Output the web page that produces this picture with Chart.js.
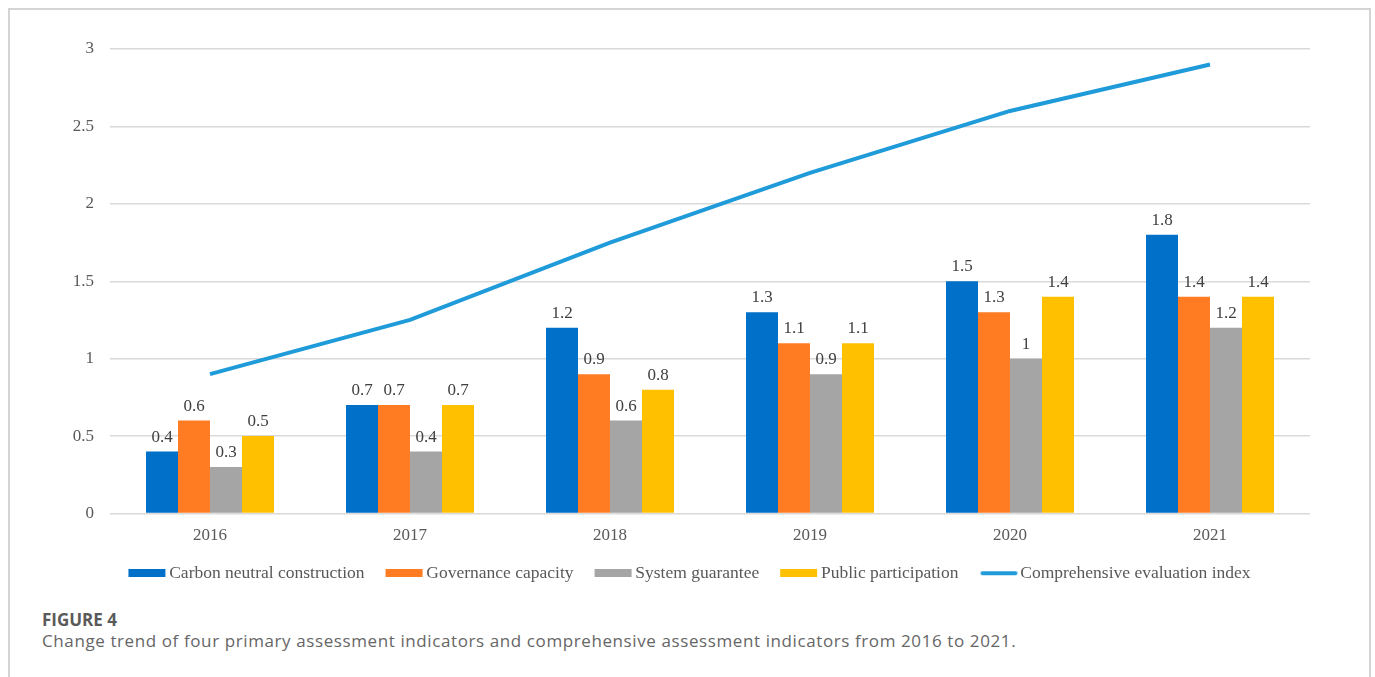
<!DOCTYPE html>
<html>
<head>
<meta charset="utf-8">
<script src="https://cdn.jsdelivr.net/npm/chart.js@4.4.0/dist/chart.umd.min.js"></script>
<style>
  html, body { margin: 0; padding: 0; background: #fff; }
  body { width: 1375px; height: 677px; position: relative; overflow: hidden; }
  .frame { position: absolute; left: 8px; top: 8px; width: 1359px; height: 700px; border: 2px solid #d4d4d4; }
  #wrap { position: absolute; left: 0; top: 0; width: 1375px; height: 592px; }
  .fig { position: absolute; left: 42px; top: 610px; line-height: 20px; font-family: "Open Sans", sans-serif; font-weight: 700; font-size: 17px; color: #5a5a5a; }
  .cap { position: absolute; left: 42px; top: 631px; line-height: 20px; font-family: "Open Sans", sans-serif; font-size: 17px; letter-spacing: 0.6px; color: #666; white-space: nowrap; }
</style>
</head>
<body>
<div class="frame"></div>
<div id="wrap"><canvas id="c"></canvas></div>
<div class="fig">FIGURE 4</div>
<div class="cap">Change trend of four primary assessment indicators and comprehensive assessment indicators from 2016 to 2021.</div>
<script>
// values
const years = ['2016', '2017', '2018', '2019', '2020', '2021'];
const carbonNeutral = [0.4, 0.7, 1.2, 1.3, 1.5, 1.8];
const governance = [0.6, 0.7, 0.9, 1.1, 1.3, 1.4];
const systemGuarantee = [0.3, 0.4, 0.6, 0.9, 1.0, 1.2];
const publicParticipation = [0.5, 0.7, 0.8, 1.1, 1.4, 1.4];
const comprehensiveIndex = [0.9, 1.25, 1.75, 2.2, 2.6, 2.9];
const yTicks = [0, 0.5, 1, 1.5, 2, 2.5, 3];

const serif = '"Liberation Serif", "Times New Roman", serif';

// legend swatch: long flat box (or thick line) sitting just left of the text
function swatch(color, isLine) {
  const c = document.createElement('canvas');
  c.width = 45;
  c.height = 8;
  const g = c.getContext('2d');
  if (isLine) {
    g.strokeStyle = color;
    g.lineWidth = 4;
    g.lineCap = 'round';
    g.beginPath();
    g.moveTo(9, 4);
    g.lineTo(42, 4);
    g.stroke();
  } else {
    g.fillStyle = color;
    g.fillRect(6, 0, 37, 8);
  }
  return c;
}

function bar(label, data, color) {
  return { type: 'bar', label: label, data: data, backgroundColor: color, borderWidth: 0, order: 1 };
}

// value labels above each bar
const barLabels = {
  id: 'barLabels',
  afterDatasetsDraw(chart) {
    const ctx = chart.ctx;
    ctx.save();
    ctx.font = '17px ' + serif;
    ctx.fillStyle = '#404040';
    ctx.textAlign = 'center';
    ctx.textBaseline = 'bottom';
    chart.data.datasets.forEach((ds, i) => {
      if (ds.type !== 'bar') return;
      chart.getDatasetMeta(i).data.forEach((el, j) => {
        ctx.fillText(String(ds.data[j]), el.x, el.y - 6);
      });
    });
    ctx.restore();
  }
};

new Chart(document.getElementById('c'), {
  data: {
    labels: years,
    datasets: [
      bar('Carbon neutral construction', carbonNeutral, '#0070C8'),
      bar('Governance capacity', governance, '#FF7C22'),
      bar('System guarantee', systemGuarantee, '#A5A5A5'),
      bar('Public participation', publicParticipation, '#FFC000'),
      {
        type: 'line', label: 'Comprehensive evaluation index', data: comprehensiveIndex,
        borderColor: '#1F9BDA', backgroundColor: '#1F9BDA', borderWidth: 4,
        pointRadius: 0, tension: 0, order: 0
      }
    ]
  },
  options: {
    responsive: true,
    maintainAspectRatio: false,
    animation: false,
    layout: { padding: { left: 70, right: 65, top: 49, bottom: 0 } },
    datasets: { bar: { categoryPercentage: 0.64, barPercentage: 1.0 } },
    plugins: {
      tooltip: { enabled: false },
      legend: {
        position: 'bottom',
        labels: {
          usePointStyle: true,
          pointStyleWidth: 31,
          boxHeight: 8,
          padding: 22,
          color: '#595959',
          font: { family: serif, size: 17.5 },
          generateLabels(chart) {
            return chart.data.datasets.map((ds, i) => {
              const isLine = ds.type === 'line';
              const col = isLine ? ds.borderColor : ds.backgroundColor;
              return {
                text: ds.label,
                datasetIndex: i,
                fillStyle: col,
                strokeStyle: col,
                lineWidth: 0,
                pointStyle: swatch(col, isLine),
                fontColor: '#595959'
              };
            });
          }
        }
      }
    },
    scales: {
      x: {
        afterFit(scale) { scale.height = 29; },
        grid: { display: false, drawTicks: false },
        border: { display: false },
        ticks: { color: '#595959', font: { family: serif, size: 17 }, padding: 12 }
      },
      y: {
        min: 0,
        max: 3,
        afterFit(scale) { scale.width = 40; },
        afterBuildTicks(scale) { scale.ticks = yTicks.map(v => ({ value: v })); },
        grid: { color: '#d9d9d9', lineWidth: 1.5, drawTicks: false },
        border: { display: false },
        ticks: {
          color: '#595959',
          font: { family: serif, size: 17 },
          padding: 16,
          callback: v => String(v)
        }
      }
    }
  },
  plugins: [barLabels]
});
</script>
</body>
</html>
